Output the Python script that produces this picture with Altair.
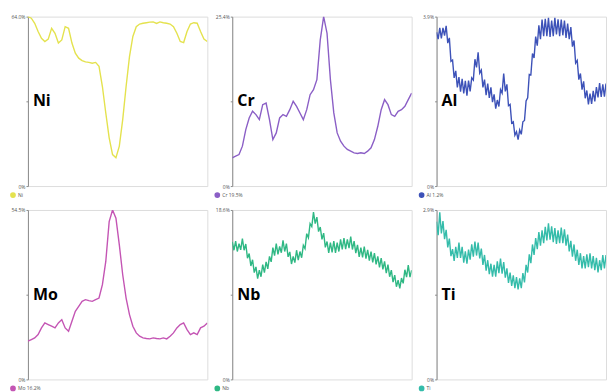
import altair as alt
import pandas as pd

# ---- data (concentration along the scan) ----
ni = [64.0, 63.4, 61.5, 58.4, 55.8, 54.6, 55.5, 59.6, 57.7, 54.0, 55.2, 60.2, 59.6, 54.0,
      50.2, 48.3, 47.4, 46.9, 46.7, 46.4, 46.7, 45.2, 37.6, 27.6, 18.2, 11.9, 10.7, 15.1,
      25.1, 37.6, 48.9, 56.5, 60.2, 61.2, 61.5, 61.7, 61.9, 62.0, 61.4, 62.0, 61.7, 61.5,
      61.2, 60.2, 57.7, 54.6, 54.2, 58.4, 61.2, 61.7, 61.5, 58.4, 55.5, 54.6]
cr = [4.23, 4.48, 4.73, 5.98, 8.47, 10.21, 11.21, 10.71, 9.96, 12.20, 12.45, 9.96, 6.97,
      7.97, 10.21, 10.71, 10.46, 11.45, 12.70, 11.95, 10.96, 9.96, 11.45, 13.70, 14.44,
      15.94, 21.91, 25.40, 22.91, 15.94, 10.96, 7.97, 6.72, 5.98, 5.48, 5.23, 4.98, 4.88,
      4.98, 4.88, 5.23, 5.73, 6.97, 8.96, 11.45, 12.95, 12.20, 10.71, 10.46, 11.21, 11.45,
      11.95, 12.95, 13.94]
al = [3.54, 3.38, 3.64, 3.40, 3.64, 3.46, 3.69, 3.29, 3.41, 2.87, 2.90, 2.49, 2.65, 2.27,
      2.51, 2.17, 2.47, 2.13, 2.42, 2.08, 2.43, 2.18, 2.49, 2.44, 2.92, 2.73, 3.08, 2.60,
      2.67, 2.27, 2.45, 2.09, 2.36, 2.03, 2.27, 1.93, 2.11, 1.78, 1.98, 1.83, 2.22, 2.14,
      2.59, 2.18, 2.34, 1.85, 1.88, 1.45, 1.48, 1.17, 1.25, 1.07, 1.29, 1.19, 1.48, 1.51,
      1.96, 2.03, 2.57, 2.56, 3.05, 2.95, 3.44, 3.23, 3.70, 3.38, 3.83, 3.45, 3.85, 3.45,
      3.87, 3.43, 3.81, 3.45, 3.87, 3.49, 3.84, 3.45, 3.83, 3.47, 3.81, 3.41, 3.74, 3.38,
      3.66, 3.21, 3.35, 2.83, 2.89, 2.45, 2.59, 2.22, 2.41, 2.02, 2.20, 1.88, 2.13, 1.89,
      2.19, 1.95, 2.28, 2.04, 2.37, 2.05, 2.34, 2.06, 2.36]
mo = [12.29, 12.82, 13.36, 14.43, 16.57, 18.17, 17.63, 17.10, 16.57, 18.17, 19.23, 16.57,
      15.49, 18.70, 21.91, 23.51, 25.11, 25.65, 25.33, 25.11, 25.65, 26.18, 30.46, 37.94,
      50.76, 54.50, 51.83, 43.28, 33.66, 26.18, 20.84, 17.10, 14.96, 13.89, 13.36, 13.14,
      13.04, 13.36, 13.14, 13.04, 13.36, 13.04, 13.89, 14.96, 16.57, 17.63, 18.17, 16.03,
      14.43, 14.96, 14.43, 16.57, 17.10, 18.17]
nb = [15.09, 14.18, 15.17, 14.04, 14.91, 14.23, 15.45, 14.18, 14.86, 13.31, 13.81, 12.45,
      13.13, 11.72, 12.35, 11.07, 11.99, 11.27, 12.59, 11.72, 12.90, 12.13, 13.50, 12.91,
      14.46, 13.59, 14.91, 13.73, 14.59, 13.91, 15.27, 14.04, 14.91, 13.45, 13.99, 12.67,
      13.50, 12.82, 14.18, 13.09, 14.04, 13.36, 14.72, 14.36, 16.00, 15.55, 17.09, 16.78,
      18.37, 17.10, 17.82, 16.23, 16.73, 15.37, 16.05, 14.50, 15.14, 13.90, 15.01, 13.95,
      15.19, 13.90, 15.01, 14.04, 15.37, 14.26, 15.50, 14.31, 15.37, 14.40, 15.68, 14.26,
      15.19, 13.86, 14.77, 13.44, 14.46, 13.40, 14.59, 13.26, 14.23, 13.04, 14.04, 12.85,
      13.86, 12.63, 13.50, 12.31, 13.31, 12.08, 12.95, 11.67, 12.59, 11.27, 11.99, 10.67,
      11.44, 10.17, 10.89, 9.99, 11.13, 10.54, 12.04, 11.22, 12.54, 11.22, 11.99]
ti = [2.70, 2.47, 2.86, 2.50, 2.71, 2.40, 2.56, 2.26, 2.41, 2.11, 2.23, 2.03, 2.27, 2.08,
      2.34, 2.08, 2.27, 2.00, 2.19, 1.98, 2.22, 2.05, 2.31, 2.10, 2.36, 2.12, 2.34, 2.07,
      2.24, 1.96, 2.13, 1.86, 2.04, 1.80, 1.98, 1.76, 1.96, 1.76, 2.02, 1.82, 2.07, 1.81,
      2.01, 1.74, 1.90, 1.65, 1.83, 1.60, 1.78, 1.56, 1.75, 1.54, 1.73, 1.56, 1.82, 1.66,
      1.96, 1.83, 2.14, 1.99, 2.31, 2.13, 2.42, 2.23, 2.52, 2.29, 2.55, 2.33, 2.61, 2.38,
      2.67, 2.39, 2.62, 2.35, 2.59, 2.32, 2.55, 2.33, 2.60, 2.33, 2.57, 2.29, 2.48, 2.19,
      2.37, 2.10, 2.31, 2.03, 2.22, 1.96, 2.16, 1.90, 2.11, 1.90, 2.14, 1.92, 2.16, 1.90,
      2.11, 1.87, 2.08, 1.83, 2.04, 1.87, 2.13, 1.90, 2.13]

elements = ["Ni", "Cr", "Al", "Mo", "Nb", "Ti"]
series = [ni, cr, al, mo, nb, ti]
tops = [64.0, 25.4, 3.9, 54.5, 18.6, 2.9]
top_labels = ["64.0%", "25.4%", "3.9%", "54.5%", "18.6%", "2.9%"]
legend_labels = ["Ni", "Cr 19.5%", "Al 1.2%", "Mo 16.2%", "Nb", "Ti"]
colors = ["#e4e24e", "#8b5fc6", "#3d52b8", "#c455b4", "#2fb884", "#34bcaa"]

FONT = "Open Sans"


def panel(i, width):
    name, vals, top = elements[i], series[i], tops[i]
    color, leg = colors[i], legend_labels[i]
    df = pd.DataFrame({"pos": list(range(len(vals))), "val": vals, "leg": leg})
    x = alt.X("pos:Q", axis=None,
              scale=alt.Scale(domain=[0, len(vals) - 1], nice=False, zero=False))
    y_axis = alt.Axis(
        values=[0, top / 2, top], title=None, grid=False,
        labelExpr=f"datum.value == 0 ? '0%' : (datum.value > {top * 0.75} ? '{top_labels[i]}' : '')",
        domainColor="#8c8c8c", domainWidth=1, tickColor="#8c8c8c", tickSize=2,
        labelFontSize=5, labelColor="#555555", labelPadding=1, labelFont=FONT,
        minExtent=19, maxExtent=19)
    line = alt.Chart(df).mark_line(strokeWidth=1.4, clip=True).encode(
        x=x,
        y=alt.Y("val:Q", scale=alt.Scale(domain=[0, top], nice=False), axis=y_axis),
        color=alt.Color("leg:N", scale=alt.Scale(domain=[leg], range=[color]),
                        legend=alt.Legend(orient="none", legendX=-18, legendY=176,
                                          title=None, labelFontSize=5, labelFont=FONT,
                                          labelColor="#555555", symbolType="circle",
                                          symbolSize=18, symbolFillColor=color,
                                          symbolStrokeColor=color, labelOffset=2,
                                          padding=0)),
    )
    label = alt.Chart(pd.DataFrame({"name": [name]})).mark_text(
        align="left", baseline="middle", fontSize=16, fontWeight="bold",
        font=FONT, color="black", dx=5,
    ).encode(x=alt.value(0), y=alt.datum(top / 2), text="name:N")
    return alt.layer(line, label).properties(width=width, height=170)


row1 = alt.hconcat(panel(0, 180), panel(1, 180), panel(2, 170), spacing=4).resolve_scale(
    color="independent", y="independent")
row2 = alt.hconcat(panel(3, 180), panel(4, 180), panel(5, 170), spacing=4).resolve_scale(
    color="independent", y="independent")

chart = alt.vconcat(row1, row2, spacing=5).resolve_scale(
    color="independent", y="independent").properties(
    padding={"left": 0, "top": 5, "right": 0, "bottom": 0}
).configure_view(stroke=None).configure(background="white")

chart.save("out.html", embed_options={"renderer": "svg", "actions": False})
